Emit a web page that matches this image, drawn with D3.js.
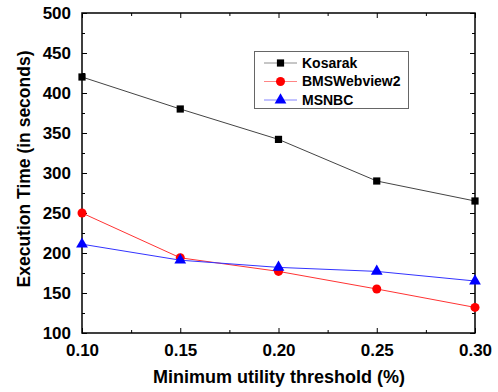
<!DOCTYPE html>
<html><head><meta charset="utf-8">
<script src="https://cdn.jsdelivr.net/npm/d3@7"></script>
<style>body{margin:0;background:#fff}svg{display:block}text{font-family:"Liberation Sans",Arial,sans-serif;font-weight:bold}</style>
</head><body><svg id="c" width="498" height="392"></svg>
<script>
const thresholds = [0.10, 0.15, 0.20, 0.25, 0.30];
const kosarak = [420, 380, 342, 290, 265];
const bmsWebview2 = [250, 194, 177, 155, 132];
const msnbc = [211, 191, 182, 177, 165];
const seriesNames = ["Kosarak", "BMSWebview2", "MSNBC"];
const xTicks = [0.10, 0.15, 0.20, 0.25, 0.30];
const yTicks = [100, 150, 200, 250, 300, 350, 400, 450, 500];

const svg = d3.select("#c");
const L = 82, R = 475, T = 13, B = 333;
const x = d3.scaleLinear().domain([0.10, 0.30]).range([L, R]);
const y = d3.scaleLinear().domain([100, 500]).range([B, T]);

const series = [
  {name: seriesNames[0], vals: kosarak, line: "#444", fill: "#000", shape: d3.symbolSquare, size: 52},
  {name: seriesNames[1], vals: bmsWebview2, line: "#ff3333", fill: "#ff0000", shape: d3.symbolCircle, size: 64},
  {name: seriesNames[2], vals: msnbc, line: "#3333ff", fill: "#0000ff", shape: d3.symbolTriangle, size: 60}
];

const minorX = d3.range(0.125, 0.30, 0.05);
const minorY = d3.range(125, 500, 50);

function axis(gen, tr, ticks, len, fmt, pad) {
  const g = svg.append("g").attr("transform", tr)
    .call(gen.tickValues(ticks).tickSize(len).tickSizeOuter(0).tickPadding(pad || 6).tickFormat(fmt));
  g.select(".domain").remove();
  g.selectAll("line").attr("stroke", "#000").attr("stroke-width", 1);
  g.selectAll("text").attr("font-size", 17).attr("fill", "#000");
  return g;
}
// bottom
axis(d3.axisBottom(x), `translate(0,${B})`, xTicks, -5, d3.format(".2f"), 11);
axis(d3.axisBottom(x), `translate(0,${B})`, minorX, -3, () => "");
// top
axis(d3.axisTop(x), `translate(0,${T})`, xTicks, -5, () => "");
axis(d3.axisTop(x), `translate(0,${T})`, minorX, -3, () => "");
// left
axis(d3.axisLeft(y), `translate(${L},0)`, yTicks, -5, d3.format("d"), 11);
axis(d3.axisLeft(y), `translate(${L},0)`, minorY, -3, () => "");
// right
axis(d3.axisRight(y), `translate(${R},0)`, yTicks, -5, () => "");
axis(d3.axisRight(y), `translate(${R},0)`, minorY, -3, () => "");

svg.append("rect").attr("x", L).attr("y", T).attr("width", R - L).attr("height", B - T)
  .attr("fill", "none").attr("stroke", "#000").attr("stroke-width", 1.5);

const line = d3.line().x((d, i) => x(thresholds[i])).y(d => y(d));
series.forEach(s => {
  svg.append("path").datum(s.vals).attr("d", line).attr("fill", "none")
    .attr("stroke", s.line).attr("stroke-width", 1);
  svg.selectAll(null).data(s.vals).enter().append("path")
    .attr("d", d3.symbol().type(s.shape).size(s.size))
    .attr("transform", (d, i) => `translate(${x(thresholds[i])},${y(d)})`)
    .attr("fill", s.fill);
});

// legend
const lg = svg.append("g");
lg.append("rect").attr("x", 254.5).attr("y", 51.5).attr("width", 154).attr("height", 57)
  .attr("fill", "#fff").attr("stroke", "#666").attr("stroke-width", 1);
series.forEach((s, i) => {
  const yy = 63 + i * 18.5;
  lg.append("line").attr("x1", 264).attr("x2", 297).attr("y1", yy).attr("y2", yy)
    .attr("stroke", s.line).attr("stroke-opacity", 0.6).attr("stroke-width", 1);
  lg.append("path").attr("d", d3.symbol().type(s.shape).size(s.size))
    .attr("transform", `translate(280.5,${yy})`).attr("fill", s.fill);
  lg.append("text").attr("x", 302).attr("y", yy).attr("dy", "0.35em")
    .attr("font-size", 14).attr("fill", "#000").text(s.name);
});

svg.append("text").attr("x", 279).attr("y", 383).attr("text-anchor", "middle")
  .attr("font-size", 18).attr("fill", "#000").text("Minimum utility threshold (%)");
svg.append("text").attr("transform", `translate(30,169) rotate(-90)`)
  .attr("text-anchor", "middle").attr("font-size", 17.5).attr("fill", "#000")
  .text("Execution Time (in seconds)");
</script></body></html>
